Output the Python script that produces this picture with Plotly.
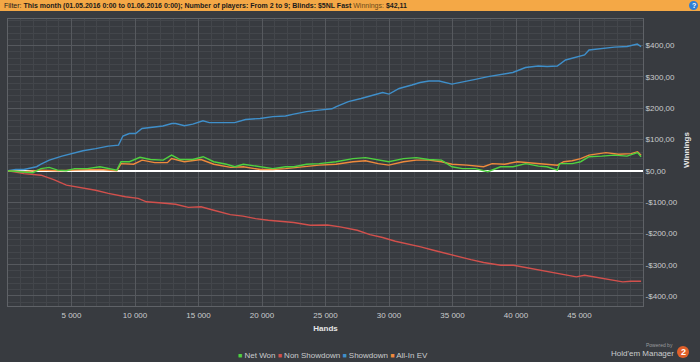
import plotly.graph_objects as go

# ---------------- data ----------------
showdown_hands = [0, 600, 1250, 2250, 2600, 3250, 4250, 5000, 5900, 6900, 7900, 8700, 9050, 9550,
                  10050, 10550, 11550, 12200, 12900, 13200, 13900, 14550, 15350, 15850, 16850, 17850,
                  18700, 19850, 20850, 21850, 22500, 23500, 24500, 25500, 25850, 26800, 27800, 28800,
                  29500, 30000, 30800, 31800, 32450, 33150, 33950, 34950, 35800, 36800, 37800, 38800,
                  39750, 40750, 41750, 42450, 43250, 43900, 44750, 45400, 45750, 46750, 47750, 48750,
                  49550, 49850]
showdown = [0, 4, 4, 13, 21, 34, 47, 55, 64, 71, 79, 82, 111, 119,
            119, 135, 139, 143, 151, 151, 144, 149, 160, 154, 154, 154,
            164, 167, 173, 175, 181, 189, 194, 198, 205, 221, 231, 242,
            250, 245, 263, 274, 282, 287, 287, 277, 285, 292, 301, 308,
            314, 330, 335, 333, 335, 354, 363, 370, 386, 391, 395, 397,
            405, 397]

nonsd_hands = [0, 1250, 2600, 3600, 4600, 5900, 6900, 7900, 9250, 10250, 10900, 11900, 13200,
               14200, 15200, 16200, 17500, 18500, 19500, 20500, 21500, 22500, 23800, 25150, 26150,
               27500, 28500, 29500, 30500, 31500, 32500, 33500, 34500, 35450, 36450, 37450, 38800,
               39800, 40750, 41750, 42750, 43750, 44750, 45400, 46400, 47400, 48400, 49050, 49850]
nonsd = [0, -9, -14, -28, -46, -54, -62, -72, -83, -88, -99, -102, -107,
         -117, -115, -126, -140, -145, -153, -158, -161, -165, -174, -173, -179,
         -190, -204, -213, -225, -233, -243, -254, -265, -273, -284, -293, -302,
         -302, -309, -318, -323, -331, -339, -334, -341, -346, -355, -353, -353]

netwon_hands = [0, 950, 1950, 2600, 3250, 3900, 4580, 5250, 6250, 7240, 7900, 8570, 8900, 9560,
                10390, 11220, 12220, 12880, 13550, 14540, 15370, 16200, 17200, 17860, 18530, 19860,
                20850, 21850, 22510, 23510, 24500, 25830, 27160, 28150, 29150, 29980, 31140, 32140,
                33130, 34130, 34960, 35790, 36790, 37780, 38780, 39770, 40770, 41770, 42430, 43260,
                43430, 44420, 45090, 45750, 46750, 47740, 48740, 49570, 49850]
netwon = [0, -3, -6, 7, 11, 2, 0, 7, 7, 13, 7, 2, 29, 29,
          43, 36, 34, 50, 36, 36, 45, 29, 21, 13, 21, 13,
          7, 13, 13, 21, 23, 29, 39, 42, 34, 29, 39, 42,
          36, 34, 13, 7, 7, -3, 13, 13, 23, 15, 13, 2,
          23, 23, 29, 45, 47, 50, 47, 58, 45]

allin_hands = [0, 1250, 2590, 3920, 5250, 7240, 8570, 8900, 9890, 10560, 11550, 12550, 12880,
               13880, 15200, 16200, 17530, 18530, 19860, 20850, 21850, 23180, 24500, 25830, 27160,
               28150, 29150, 29980, 31140, 32140, 33130, 34130, 34960, 36130, 37450, 38120, 39110,
               40110, 41100, 42430, 43260, 43760, 44420, 45090, 45750, 47080, 48070, 49070, 49570,
               49850]
allin = [0, -3, 2, 0, 2, 4, 0, 23, 21, 34, 26, 26, 39,
         29, 36, 21, 11, 13, 4, 4, 7, 13, 18, 21, 29,
         32, 23, 18, 29, 34, 34, 29, 21, 18, 13, 23, 21,
         29, 26, 21, 18, 29, 32, 39, 50, 58, 53, 55, 61,
         50]

x_tick_vals = [5000, 10000, 15000, 20000, 25000, 30000, 35000, 40000, 45000]
x_tick_text = ["5 000", "10 000", "15 000", "20 000", "25 000", "30 000", "35 000", "40 000", "45 000"]
y_tick_vals = [400, 300, 200, 100, 0, -100, -200, -300, -400]
y_tick_text = ["$400,00", "$300,00", "$200,00", "$100,00", "$0,00",
               "-$100,00", "-$200,00", "-$300,00", "-$400,00"]

filter_text = ("Filter: <b>This month (01.05.2016 0:00 to 01.06.2016 0:00); Number of players: "
               "From 2 to 9; Blinds: $5NL Fast</b> <span style='color:#6b4a1a'>Winnings:</span> <b>$42,11</b>")

# ---------------- styling ----------------
BG = "#383b40"
C_NET = "#4fd13f"
C_NSD = "#d2504c"
C_SD = "#3f8fca"
C_AIEV = "#ef8a3c"
TXT = "#c9cbcd"

W, H = 700, 362
L, R, T, B = 8, 57, 19, 56
PW, PH = W - L - R, H - T - B


def px_x(px):
    return (px - L) / PW


def px_y(py):
    return (H - B - py) / PH


fig = go.Figure()

series = [
    ("Showdown", showdown_hands, showdown, C_SD),
    ("Non Showdown", nonsd_hands, nonsd, C_NSD),
    ("All-In EV", allin_hands, allin, C_AIEV),
    ("Net Won", netwon_hands, netwon, C_NET),
]
for name, xs, ys, col in series:
    fig.add_trace(go.Scatter(x=xs, y=ys, mode="lines", name=name,
                             line=dict(color=col, width=1.4),
                             showlegend=False))

legend_items = [("Net Won", C_NET), ("Non Showdown", C_NSD), ("Showdown", C_SD), ("All-In EV", C_AIEV)]
legend_text = "&nbsp;".join(
    f"<span style='color:{c};font-size:7px'>■</span> {n}" for n, c in legend_items)

fig.update_layout(
    width=W, height=H,
    margin=dict(l=L, r=R, t=T, b=B),
    paper_bgcolor=BG, plot_bgcolor=BG,
    font=dict(family="Liberation Sans, Arial, sans-serif", size=8, color=TXT),
    showlegend=False,
    xaxis=dict(range=[0, 50000], tickvals=x_tick_vals, ticktext=x_tick_text,
               showgrid=True, gridcolor="#56595e", gridwidth=1,
               minor=dict(dtick=1000, tick0=0, showgrid=True, gridcolor="#43464b", gridwidth=1),
               zeroline=False, showline=True, linecolor="#5f6267", mirror=True,
               ticks="", tickfont=dict(size=8, color=TXT), ticklabelstandoff=1,
               title=dict(text="<b>Hands</b>", font=dict(size=8, color="#e6e6e6"), standoff=6)),
    yaxis=dict(range=[-432, 485], side="right", tickvals=y_tick_vals, ticktext=y_tick_text,
               showgrid=True, gridcolor="#56595e", gridwidth=1,
               minor=dict(dtick=20, tick0=0, showgrid=True, gridcolor="#43464b", gridwidth=1),
               zeroline=True, zerolinecolor="#ffffff", zerolinewidth=2,
               showline=True, linecolor="#5f6267", mirror=True,
               ticks="", tickfont=dict(size=8, color=TXT)),
    shapes=[
        dict(type="rect", xref="paper", yref="paper",
             x0=px_x(0), x1=px_x(W), y0=px_y(11), y1=px_y(0),
             fillcolor="#f4a846", line=dict(width=0), layer="above"),
        dict(type="circle", xref="paper", yref="paper",
             x0=px_x(689), x1=px_x(698), y0=px_y(10), y1=px_y(1),
             fillcolor="#2f7fd6", line=dict(width=0), layer="above"),
        dict(type="circle", xref="paper", yref="paper",
             x0=px_x(677), x1=px_x(689), y0=px_y(358), y1=px_y(346),
             fillcolor="#e0602a", line=dict(width=0), layer="above"),
    ],
    annotations=[
        dict(text=filter_text, xref="paper", yref="paper", x=px_x(2), y=px_y(5.5),
             xanchor="left", yanchor="middle", showarrow=False,
             font=dict(family="Liberation Sans, Arial, sans-serif", size=7, color="#1b1b1b")),
        dict(text="<b>?</b>", xref="paper", yref="paper", x=px_x(693.5), y=px_y(5.5),
             xanchor="center", yanchor="middle", showarrow=False,
             font=dict(size=7, color="#ffffff")),
        dict(text="<b>Winnings</b>", xref="paper", yref="paper", x=px_x(686), y=px_y(150),
             xanchor="center", yanchor="middle", showarrow=False, textangle=-90,
             font=dict(size=8, color="#e6e6e6")),
        dict(text=legend_text, xref="paper", yref="paper", x=px_x(333), y=px_y(355),
             xanchor="center", yanchor="middle", showarrow=False,
             font=dict(size=8, color=TXT)),
        dict(text="Powered by", xref="paper", yref="paper", x=px_x(675), y=px_y(345),
             xanchor="right", yanchor="middle", showarrow=False,
             font=dict(size=5, color="#9a9c9f")),
        dict(text="Hold'em Manager", xref="paper", yref="paper", x=px_x(676), y=px_y(353.5),
             xanchor="right", yanchor="middle", showarrow=False,
             font=dict(size=8, color="#c9cbcd")),
        dict(text="<b>2</b>", xref="paper", yref="paper", x=px_x(683), y=px_y(352),
             xanchor="center", yanchor="middle", showarrow=False,
             font=dict(size=9, color="#ffffff")),
    ],
)

fig.write_html("out.html", config={"displayModeBar": False},
               post_script="document.body.style.margin='0';document.body.style.overflow='hidden';")
